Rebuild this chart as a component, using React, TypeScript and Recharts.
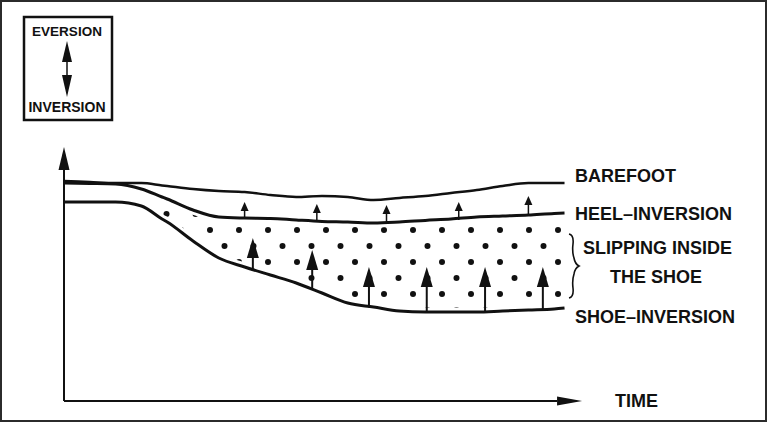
import { ComposedChart, Line, Area, XAxis, YAxis, ReferenceLine } from 'recharts';

// time samples (arbitrary units along the time axis)
const time = [0, 5, 10, 15, 19, 20, 25, 30, 35, 40, 45, 50, 55, 60, 65, 70, 75, 80, 85, 90, 95, 97];

// rearfoot angle, higher = more eversion
const barefoot = [110, 109.5, 109, 109, 107.8, 107.5, 106, 105, 104.5, 103, 102, 102.5, 102, 100.5, 101.5, 102.5, 104, 105.5, 107.5, 109, 109, 109];
const heelInversion = [109, 108.8, 108.5, 106, 102, 101, 95.5, 92, 91.5, 91.3, 90.5, 89.8, 89.5, 89, 89.5, 90.3, 91, 92, 92.5, 93, 93.8, 94];
const shoeInversion = [99.5, 99.5, 99.5, 97.5, 91, 89.5, 80, 71.5, 67, 63, 59, 54, 49, 47, 45, 44.5, 44.5, 44.5, 45, 45.5, 46, 46.5];

// the heel starts slipping once the two curves part
const slipStart = 19;

// small arrows: barefoot -> heel-inversion gap
const smallArrowTime = [35, 49, 62.5, 76.5, 90];
const smallArrowBase = [91.5, 90.3, 89.3, 90.5, 93];
const smallArrowTip = [99.5, 98.5, 98, 99.5, 102.5];

// large arrows: slipping of the heel inside the shoe
const bigArrowTime = [36.6, 48.1, 59.1, 70.3, 81.6, 92.8];
const bigArrowBase = [65.5, 55.5, 46.8, 44.5, 44.5, 46];
const bigArrowTip = [81.5, 75.5, 67, 67, 67, 67];

const rows = time.map((t, i) => ({
  t,
  barefoot: barefoot[i],
  heel: heelInversion[i],
  shoe: shoeInversion[i],
  slip: t >= slipStart ? [shoeInversion[i], heelInversion[i]] : null,
}));

const FONT = '"Liberation Sans", Arial, sans-serif';
const INK = '#111';

const arrowShape = (headLen: number, headW: number, width: number) => (props: any) => {
  const { x1, y1, x2, y2 } = props;
  const dx = x2 - x1;
  const dy = y2 - y1;
  const len = Math.sqrt(dx * dx + dy * dy) || 1;
  const ux = dx / len;
  const uy = dy / len;
  const bx = x2 - ux * headLen;
  const by = y2 - uy * headLen;
  const px = -uy * (headW / 2);
  const py = ux * (headW / 2);
  return (
    <g>
      <line x1={x1} y1={y1} x2={bx} y2={by} stroke={INK} strokeWidth={width} />
      <polygon points={`${x2},${y2} ${bx + px},${by + py} ${bx - px},${by - py}`} fill={INK} />
    </g>
  );
};

const Annotations = () => (
  <svg width={768} height={423} style={{ position: 'absolute', left: 0, top: 0, pointerEvents: 'none' }}>
    {/* eversion / inversion key */}
    <rect x={24} y={17} width={88} height={103} fill="none" stroke={INK} strokeWidth={2.5} />
    <text x={67} y={36} textAnchor="middle" fontFamily={FONT} fontWeight={700} fontSize={13.5} fill={INK}>EVERSION</text>
    <text x={67} y={112} textAnchor="middle" fontFamily={FONT} fontWeight={700} fontSize={14} fill={INK}>INVERSION</text>
    <line x1={67} y1={60} x2={67} y2={78} stroke={INK} strokeWidth={1.5} />
    <polygon points="67,41 62,62 72,62" fill={INK} />
    <polygon points="67,97 62,75 72,75" fill={INK} />

    {/* curve labels */}
    <g fontFamily={FONT} fontWeight={700} fontSize={18} fill={INK}>
      <text x={575} y={182}>BAREFOOT</text>
      <text x={575} y={220}>HEEL–INVERSION</text>
      <text x={583} y={254}>SLIPPING INSIDE</text>
      <text x={610} y={283}>THE SHOE</text>
      <text x={575} y={323}>SHOE–INVERSION</text>
      <text x={615} y={407}>TIME</text>
    </g>
    <path
      d="M569 234 Q574 235 573 244 Q572 252 574 258 Q575 264 579 266 Q575 268 574 274 Q572 280 573 288 Q574 297 569 298"
      fill="none"
      stroke={INK}
      strokeWidth={1.6}
    />
  </svg>
);

export default function App() {
  return (
    <div style={{ position: 'absolute', left: 0, top: 0, width: 768, height: 423, background: '#fff' }}>
      <div
        style={{
          position: 'absolute',
          left: 0,
          top: 0,
          width: 767,
          height: 422,
          border: '2px solid #2b2b2b',
          boxSizing: 'border-box',
        }}
      />
      <ComposedChart
        width={768}
        height={423}
        data={rows}
        margin={{ top: 147, right: 188, bottom: 22, left: 64 }}
        style={{ position: 'absolute', left: 0, top: 0 }}
      >
        <defs>
          <pattern id="slipDots" patternUnits="userSpaceOnUse" x={181} y={230} width={29} height={32}>
            <circle cx={0} cy={0} r={3} fill={INK} />
            <circle cx={29} cy={0} r={3} fill={INK} />
            <circle cx={0} cy={32} r={3} fill={INK} />
            <circle cx={29} cy={32} r={3} fill={INK} />
            <circle cx={14.5} cy={16} r={3} fill={INK} />
          </pattern>
        </defs>
        <XAxis dataKey="t" type="number" domain={[0, 100]} hide />
        <YAxis type="number" domain={[0, 127]} hide />

        <Area
          dataKey="slip"
          type="monotone"
          stroke="none"
          fill="url(#slipDots)"
          fillOpacity={1}
          isAnimationActive={false}
        />
        {/* white margins keep the dots clear of the bounding curves */}
        <Line dataKey="heel" type="monotone" stroke="#fff" strokeWidth={9} dot={false} isAnimationActive={false} />
        <Line dataKey="shoe" type="monotone" stroke="#fff" strokeWidth={9} dot={false} isAnimationActive={false} />

        <Line dataKey="barefoot" type="monotone" stroke={INK} strokeWidth={2.5} dot={false} isAnimationActive={false} />
        <Line dataKey="heel" type="monotone" stroke={INK} strokeWidth={3} dot={false} isAnimationActive={false} />
        <Line dataKey="shoe" type="monotone" stroke={INK} strokeWidth={3} dot={false} isAnimationActive={false} />

        {/* axes */}
        <ReferenceLine
          segment={[{ x: 0, y: 0 }, { x: 100.4, y: 0 }]}
          shape={arrowShape(25, 9, 2)}
          ifOverflow="visible"
        />
        <ReferenceLine
          segment={[{ x: 0, y: 0 }, { x: 0, y: 127 }]}
          shape={arrowShape(23, 11, 2)}
          ifOverflow="visible"
        />

        {smallArrowTime.map((t, i) => (
          <ReferenceLine
            key={`s${i}`}
            segment={[{ x: t, y: smallArrowBase[i] }, { x: t, y: smallArrowTip[i] }]}
            shape={arrowShape(9, 8, 1.5)}
            ifOverflow="visible"
          />
        ))}
        {bigArrowTime.map((t, i) => (
          <ReferenceLine
            key={`b${i}`}
            segment={[{ x: t, y: bigArrowBase[i] }, { x: t, y: bigArrowTip[i] }]}
            shape={arrowShape(20, 12, 2)}
            ifOverflow="visible"
          />
        ))}
      </ComposedChart>
      <Annotations />
    </div>
  );
}
